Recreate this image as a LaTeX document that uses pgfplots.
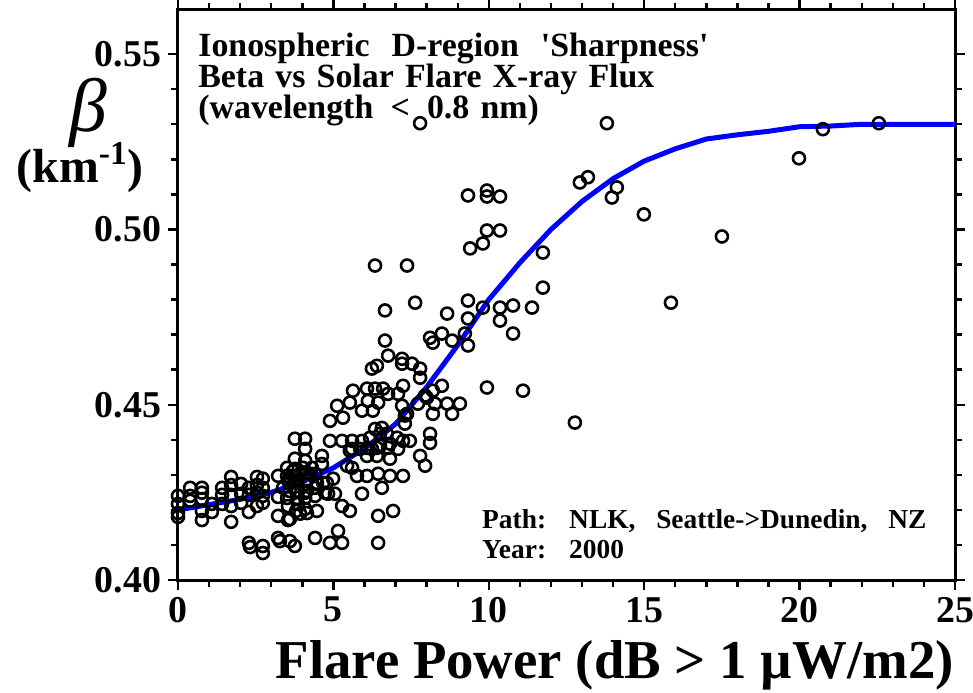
\documentclass[border=0pt]{standalone}
\usepackage{fontspec}
\setmainfont{Liberation Serif}
\newfontfamily\plainfont{Liberation Serif}
\usepackage{pgfplots}
\pgfplotsset{compat=1.18}

% beta vs flare power, scatter + fitted curve
\pgfplotstableread{
x y
0.00 0.4240
0.00 0.4217
0.00 0.4191
0.00 0.4180
0.39 0.4263
0.39 0.4240
0.39 0.4226
0.77 0.4263
0.77 0.4249
0.77 0.4231
0.77 0.4197
0.77 0.4171
1.09 0.4217
1.09 0.4194
1.42 0.4263
1.42 0.4243
1.42 0.4217
1.71 0.4294
1.71 0.4271
1.71 0.4243
1.71 0.4211
1.71 0.4166
2.03 0.4274
2.03 0.4246
2.03 0.4220
2.28 0.4263
2.28 0.4243
2.28 0.4194
2.28 0.4106
2.32 0.4094
2.54 0.4294
2.54 0.4271
2.54 0.4249
2.54 0.4211
2.73 0.4289
2.73 0.4263
2.73 0.4240
2.73 0.4220
2.73 0.4097
2.73 0.4077
3.22 0.4297
3.22 0.4237
3.22 0.4183
3.22 0.4120
3.28 0.4111
3.38 0.4263
3.51 0.4320
3.51 0.4297
3.51 0.4234
3.54 0.4283
3.54 0.4211
3.54 0.4171
3.60 0.4277
3.60 0.4254
3.60 0.4174
3.60 0.4111
3.70 0.4311
3.70 0.4297
3.76 0.4403
3.76 0.4346
3.76 0.4317
3.76 0.4097
3.80 0.4283
3.80 0.4254
3.80 0.4197
3.83 0.4234
3.86 0.4277
3.86 0.4254
3.86 0.4217
3.93 0.4303
3.93 0.4189
4.02 0.4320
4.09 0.4403
4.09 0.4374
4.09 0.4340
4.09 0.4306
4.09 0.4274
4.09 0.4249
4.09 0.4234
4.09 0.4203
4.15 0.4306
4.15 0.4283
4.15 0.4254
4.15 0.4191
4.25 0.4303
4.31 0.4320
4.41 0.4303
4.41 0.4263
4.41 0.4240
4.41 0.4120
4.47 0.4277
4.47 0.4197
4.63 0.4354
4.63 0.4331
4.67 0.4277
4.73 0.4249
4.79 0.4277
4.83 0.4246
4.89 0.4454
4.89 0.4397
4.89 0.4106
4.99 0.4289
5.05 0.4246
5.12 0.4497
5.15 0.4140
5.28 0.4397
5.28 0.4211
5.28 0.4106
5.31 0.4463
5.44 0.4326
5.53 0.4506
5.53 0.4369
5.53 0.4197
5.60 0.4397
5.60 0.4374
5.60 0.4320
5.63 0.4540
5.76 0.4297
5.86 0.4374
5.92 0.4483
5.92 0.4397
5.92 0.4246
6.08 0.4546
6.08 0.4377
6.08 0.4354
6.08 0.4297
6.11 0.4511
6.18 0.4406
6.24 0.4603
6.27 0.4483
6.24 0.4374
6.34 0.4546
6.34 0.4431
6.34 0.4897
6.40 0.4611
6.40 0.4377
6.40 0.4354
6.44 0.4506
6.44 0.4303
6.44 0.4183
6.44 0.4106
6.50 0.4417
6.50 0.4383
6.56 0.4434
6.56 0.4263
6.60 0.4546
6.66 0.4769
6.66 0.4683
6.72 0.4417
6.76 0.4640
6.76 0.4531
6.76 0.4377
6.82 0.4389
6.82 0.4346
6.82 0.4297
6.92 0.4197
7.05 0.4406
7.08 0.4531
7.08 0.4374
7.21 0.4631
7.21 0.4617
7.21 0.4497
7.24 0.4554
7.24 0.4397
7.24 0.4297
7.30 0.4469
7.30 0.4446
7.37 0.4897
7.37 0.4474
7.46 0.4397
7.53 0.4617
7.63 0.4791
7.72 0.4503
7.79 0.5303
7.79 0.4603
7.79 0.4577
7.79 0.4354
7.95 0.4526
7.95 0.4326
8.01 0.4520
8.11 0.4691
8.11 0.4417
8.11 0.4391
8.20 0.4677
8.20 0.4540
8.20 0.4474
8.27 0.4503
8.49 0.4703
8.49 0.4554
8.66 0.4760
8.66 0.4503
8.82 0.4683
8.82 0.4474
9.07 0.4503
9.23 0.4703
9.33 0.4797
9.33 0.4746
9.33 0.4669
9.33 0.5097
9.40 0.4946
9.81 0.4960
9.81 0.4777
9.94 0.5111
9.94 0.5094
9.94 0.4997
9.94 0.4549
10.36 0.5094
10.36 0.4997
10.36 0.4777
10.36 0.4740
10.78 0.4783
10.78 0.4703
11.10 0.4540
11.39 0.4777
11.74 0.4934
11.74 0.4834
12.77 0.4449
12.93 0.5134
13.19 0.5149
13.80 0.5303
13.96 0.5091
14.12 0.5120
14.99 0.5043
15.86 0.4791
17.50 0.4980
19.98 0.5203
20.75 0.5286
22.55 0.5303
}\scatterdata

\pgfplotstableread{
x y
0 0.4200
1 0.4215
2 0.4230
3 0.4250
4 0.4280
5 0.4320
6 0.4375
7 0.4445
8 0.4550
9 0.4670
10 0.4800
11 0.4905
12 0.5000
13 0.5080
14 0.5145
15 0.5195
16 0.5230
17 0.5258
18 0.5270
19 0.5280
20 0.5293
21 0.5295
22 0.5300
23 0.5300
24 0.5300
25 0.5300
}\fitdata

\newcommand{\sq}{{\plainfont\bfseries'}}

\begin{document}
\begin{tikzpicture}
\useasboundingbox (-89bp,-56.5bp) rectangle (397.5bp,290bp);
\begin{axis}[
    at={(0,0)}, anchor=south west,
    scale only axis,
    width=388.5bp, height=285bp,
    xmin=0, xmax=25,
    ymin=0.40, ymax=0.5626,
    xtick={0,5,10,15,20,25},
    ytick={0.40,0.45,0.50,0.55},
    yticklabels={0.40,0.45,0.50,0.55},
    minor x tick num=4,
    minor y tick num=4,
    tick pos=both,
    tick align=outside,
    major tick length=5bp,
    minor tick length=3.5bp,
    every tick/.style={black, line width=1.2bp},
    axis line style={line width=1.5bp},
    /pgf/number format/assume math mode=true,
    tick label style={font=\bfseries\fontsize{19}{19}\selectfont},
    clip=false,
    xlabel={Flare Power (dB > 1 µW/m2)},
    xlabel style={at={(axis description cs:0.562,-0.149)}, anchor=center,
        font=\bfseries\fontsize{27.5}{27.5}\selectfont},
]
\addplot[only marks, mark=o, mark size=3bp, black,
    mark options={line width=1.3bp}] table {\scatterdata};
\addplot[blue, line width=2.5bp] table {\fitdata};

\begin{scope}[every node/.style={anchor=base west, inner sep=0pt,
    font=\bfseries\fontsize{17}{17}\selectfont}]
\node at (axis description cs:0.0257,0.9193)
    {\spaceskip=0.65em Ionospheric D-region \sq Sharpness\sq};
\node at (axis description cs:0.0257,0.8640)
    {\spaceskip=0.33em Beta vs Solar Flare X-ray Flux};
\node at (axis description cs:0.0257,0.8088)
    {\spaceskip=0.33em (wavelength\hspace{3bp} <\hspace{3bp} 0.8 nm)};
\end{scope}
\node[anchor=north west, inner sep=0pt, align=left,
    font=\bfseries\fontsize{13.75}{15}\selectfont]
    at (axis description cs:0.391,0.125)
    {\spaceskip=0.76em Path: NLK, Seattle->Dunedin, NZ\\
     \spaceskip=0.76em Year: 2000};
\node[font=\fontsize{38}{38}\selectfont\itshape]
    at (axis description cs:-0.116,0.82) {β};
\node[font=\bfseries\fontsize{24}{24}\selectfont]
    at (axis description cs:-0.126,0.723) {(km\textsuperscript{-1})};
\end{axis}
\end{tikzpicture}
\end{document}
